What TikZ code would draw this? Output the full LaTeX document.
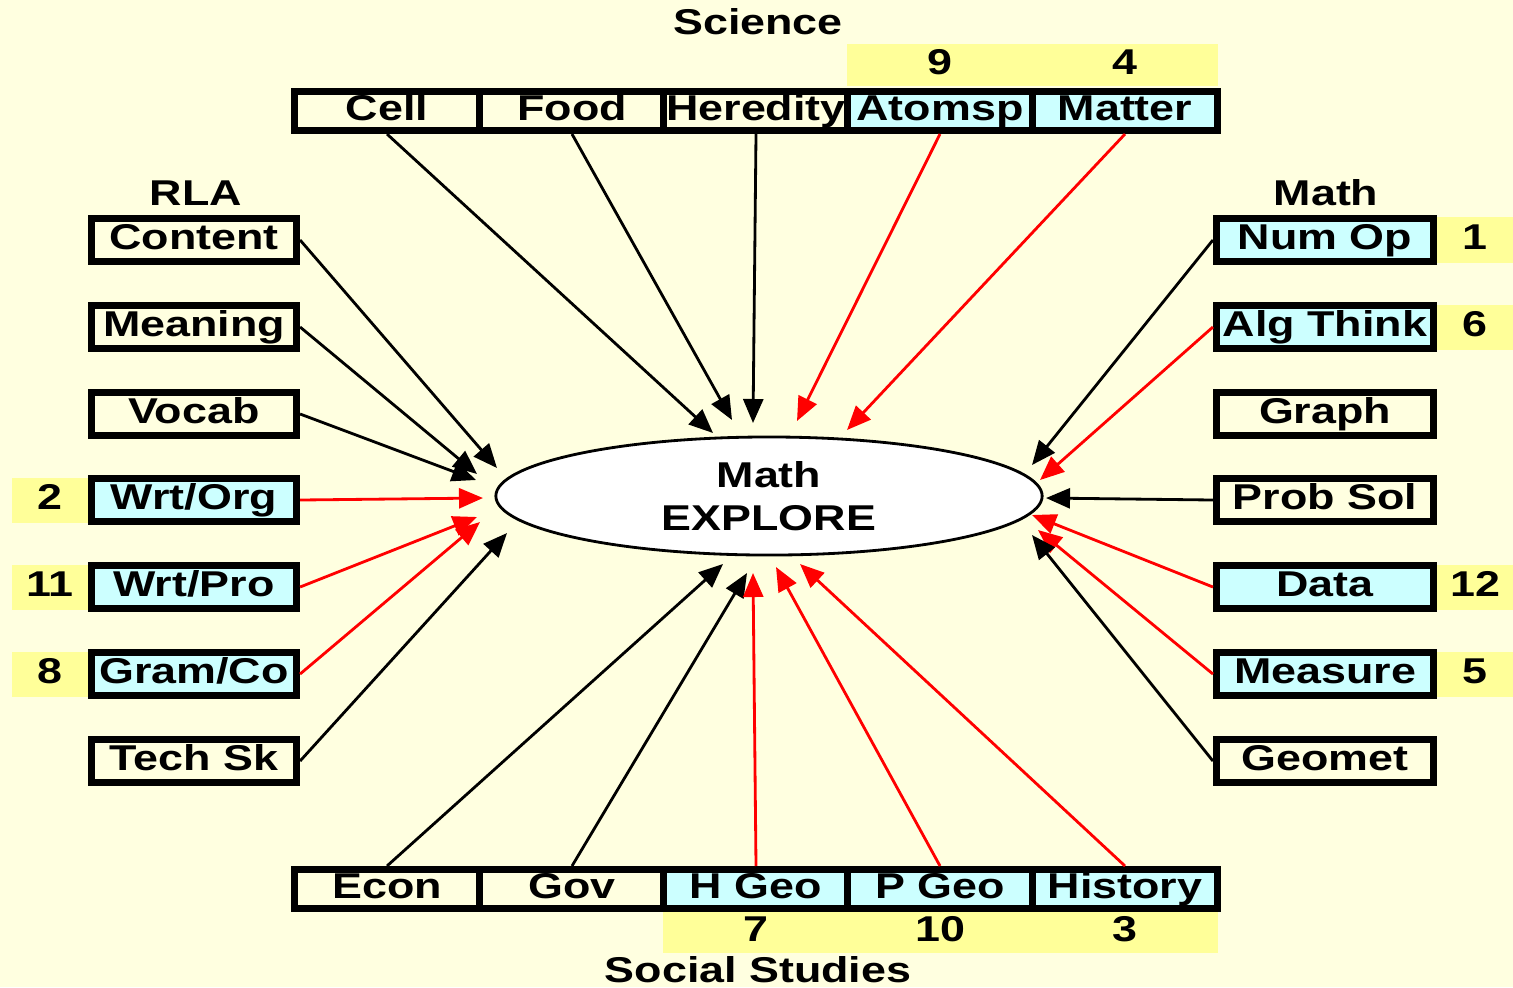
\documentclass[tikz,border=0pt]{standalone}
\usepackage{fontspec}
\setmainfont{Liberation Sans}[FakeStretch=1.25]
\usetikzlibrary{shapes.geometric, arrows.meta}
\definecolor{pagebg}{RGB}{255,255,224}
\definecolor{hilite}{RGB}{204,255,255}
\definecolor{score}{RGB}{255,255,153}

\begin{document}
\begin{tikzpicture}[
    x=0.01cm, y=-0.01cm,
    every node/.style={font=\fontsize{10.2}{12.2}\selectfont\bfseries, inner sep=0pt},
    txt/.style={text height=7.8pt, text depth=2.5pt},
    subj/.style={txt, draw, line width=2pt, fill=pagebg, minimum height=0.43cm},
    lbox/.style={subj, minimum width=2.05cm},
    rbox/.style={subj, minimum width=2.17cm},
    rowbox/.style={subj, minimum width=1.84cm, minimum height=0.39cm},
    hit/.style={fill=hilite},
    num/.style={txt, fill=score, minimum height=0.45cm, minimum width=0.76cm},
    band/.style={txt, fill=score, minimum height=0.41cm, minimum width=1.85cm},
    arr/.style={-{Triangle[length=0.24cm, width=0.2cm]}, line width=0.8pt},
    hot/.style={arr, red}
  ]
  \fill[pagebg] (0,0) rectangle (1513,987);
  \useasboundingbox (0,0) rectangle (1513,987);

  % centre
  \node[ellipse, draw, line width=0.8pt, fill=white, minimum width=5.46cm,
        minimum height=1.18cm, align=center] (explore) at (769,496) {Math\\EXPLORE};

  % science row
  \node[txt] (science) at (758,25) {Science};
  \node[band] (n9) at (940,65) {9};
  \node[band] (n4) at (1125,65) {4};
  \node[rowbox] (cell) at (387,111) {Cell};
  \node[rowbox] (food) at (572,111) {Food};
  \node[rowbox] (heredity) at (756,111) {Heredity};
  \node[rowbox, hit] (atomsp) at (940,111) {Atomsp};
  \node[rowbox, hit] (matter) at (1125,111) {Matter};

  % social studies row
  \node[rowbox] (econ) at (387,889) {Econ};
  \node[rowbox] (gov) at (572,889) {Gov};
  \node[rowbox, hit] (hgeo) at (756,889) {H Geo};
  \node[rowbox, hit] (pgeo) at (940,889) {P Geo};
  \node[rowbox, hit] (history) at (1125,889) {History};
  \node[band] (n7) at (756,932) {7};
  \node[band] (n10) at (940,932) {10};
  \node[band] (n3) at (1125,932) {3};
  \node[txt] (social) at (758,973) {Social Studies};

  % rla column
  \node[txt] (rla) at (196,196) {RLA};
  \node[lbox] (content) at (194,240) {Content};
  \node[lbox] (meaning) at (194,327) {Meaning};
  \node[lbox] (vocab) at (194,414) {Vocab};
  \node[lbox, hit] (wrtorg) at (194,500) {Wrt/Org};
  \node[lbox, hit] (wrtpro) at (194,587) {Wrt/Pro};
  \node[lbox, hit] (gramco) at (194,674) {Gram/Co};
  \node[lbox] (techsk) at (194,761) {Tech Sk};
  \node[num] (n2) at (50,500) {2};
  \node[num] (n11) at (50,587) {11};
  \node[num] (n8) at (50,674) {8};

  % math column
  \node[txt] (math) at (1326,196) {Math};
  \node[rbox, hit] (numop) at (1325,240) {Num Op};
  \node[rbox, hit] (algthink) at (1325,327) {Alg Think};
  \node[rbox] (graph) at (1325,414) {Graph};
  \node[rbox] (probsol) at (1325,500) {Prob Sol};
  \node[rbox, hit] (data) at (1325,587) {Data};
  \node[rbox, hit] (measure) at (1325,674) {Measure};
  \node[rbox] (geomet) at (1325,761) {Geomet};
  \node[num] (n1) at (1475,240) {1};
  \node[num] (n6) at (1475,327) {6};
  \node[num] (n12) at (1475,587) {12};
  \node[num] (n5) at (1475,674) {5};

  % arrow tips around the ellipse
  \coordinate (tcell) at (713,433);
  \coordinate (tfood) at (732,420);
  \coordinate (theredity) at (753,423);
  \coordinate (tatomsp) at (797,421);
  \coordinate (tmatter) at (847,430);
  \coordinate (tcontent) at (497,468);
  \coordinate (tmeaning) at (477,474);
  \coordinate (tvocab) at (476,480);
  \coordinate (twrtorg) at (483,498);
  \coordinate (twrtpro) at (477,517);
  \coordinate (tgramco) at (480,522);
  \coordinate (ttechsk) at (507,533);
  \coordinate (tnumop) at (1032,465);
  \coordinate (talgthink) at (1040,480);
  \coordinate (tprobsol) at (1046,498);
  \coordinate (tdata) at (1032,515);
  \coordinate (tmeasure) at (1038,530);
  \coordinate (tgeomet) at (1032,535);
  \coordinate (tecon) at (723,564);
  \coordinate (tgov) at (747,573);
  \coordinate (thgeo) at (753,573);
  \coordinate (tpgeo) at (776,567);
  \coordinate (thistory) at (800,564);

  \draw[arr] (cell.south) -- (tcell);
  \draw[arr] (food.south) -- (tfood);
  \draw[arr] (heredity.south) -- (theredity);
  \draw[hot] (atomsp.south) -- (tatomsp);
  \draw[hot] (matter.south) -- (tmatter);
  \draw[arr] (content.east) -- (tcontent);
  \draw[arr] (meaning.east) -- (tmeaning);
  \draw[arr] (vocab.east) -- (tvocab);
  \draw[hot] (wrtorg.east) -- (twrtorg);
  \draw[hot] (wrtpro.east) -- (twrtpro);
  \draw[hot] (gramco.east) -- (tgramco);
  \draw[arr] (techsk.east) -- (ttechsk);
  \draw[arr] (numop.west) -- (tnumop);
  \draw[hot] (algthink.west) -- (talgthink);
  \draw[arr] (probsol.west) -- (tprobsol);
  \draw[hot] (data.west) -- (tdata);
  \draw[hot] (measure.west) -- (tmeasure);
  \draw[arr] (geomet.west) -- (tgeomet);
  \draw[arr] (econ.north) -- (tecon);
  \draw[arr] (gov.north) -- (tgov);
  \draw[hot] (hgeo.north) -- (thgeo);
  \draw[hot] (pgeo.north) -- (tpgeo);
  \draw[hot] (history.north) -- (thistory);
\end{tikzpicture}
\end{document}
